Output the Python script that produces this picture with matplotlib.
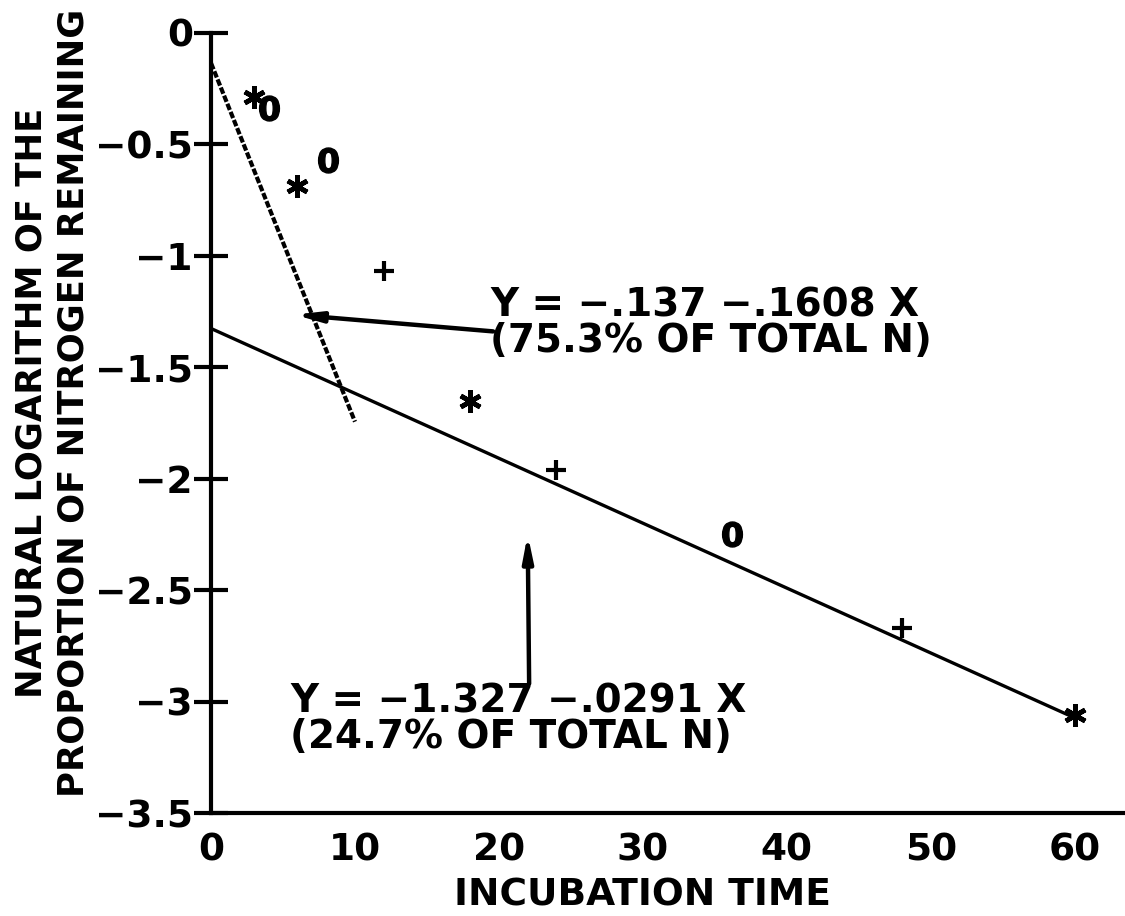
import numpy as np
import matplotlib
matplotlib.use("Agg")
import matplotlib.pyplot as plt

plt.rcParams["font.family"] = ["DejaVu Sans"]
plt.rcParams["font.weight"] = "bold"
plt.rcParams["axes.labelweight"] = "bold"

# data
star_t = [3, 6, 18, 60]
star_y = [-0.29, -0.69, -1.65, -3.06]
plus_t = [12, 24, 48]
plus_y = [-1.07, -1.96, -2.67]
zero_t = [4, 8.1, 36.2]
zero_y = [-0.34, -0.57, -2.25]

fast_a, fast_b = -0.137, -0.1608   # labile pool
slow_a, slow_b = -1.327, -0.0291   # resistant pool
fast_t = np.array([0, 10])
slow_t = np.array([0, 60])

yticks = [0, -0.5, -1, -1.5, -2, -2.5, -3, -3.5]
ytick_labels = ["0", "\u22120.5", "\u22121", "\u22121.5", "\u22122", "\u22122.5", "\u22123", "\u22123.5"]
xticks = [0, 10, 20, 30, 40, 50, 60]

fig = plt.figure(figsize=(11.25, 9.16), dpi=100)
ax = fig.add_axes([0.1876, 0.1124, 0.8124, 0.852])

ax.plot(slow_t, slow_a + slow_b * slow_t, color="black", lw=2.4)
ax.plot(fast_t, fast_a + fast_b * fast_t, color="black", lw=3, linestyle=(0, (1.6, 0.5)))

ax.plot(star_t, star_y, linestyle="none", marker=(6, 2, 0), ms=16, mew=3.4, color="black")
ax.plot(plus_t, plus_y, linestyle="none", marker="+", ms=15, mew=3, color="black")
ax.plot(zero_t, zero_y, linestyle="none", marker="$\\mathbf{0}$", ms=18, color="black")

ax.annotate("", xy=(5.8, -1.265), xytext=(19.6, -1.34),
            arrowprops=dict(arrowstyle="-|>,head_length=1.5,head_width=0.3", lw=3.2, color="black",
                            shrinkA=0, shrinkB=0))
ax.annotate("", xy=(22.0, -2.25), xytext=(22.1, -2.92),
            arrowprops=dict(arrowstyle="-|>,head_length=1.5,head_width=0.3", lw=3.2, color="black",
                            shrinkA=0, shrinkB=0))

ax.text(19.4, -1.14, "Y = \u2212.137 \u2212.1608 X\n(75.3% OF TOTAL N)", fontsize=28,
        va="top", ha="left", linespacing=0.92)
ax.text(5.5, -2.915, "Y = \u22121.327 \u2212.0291 X\n(24.7% OF TOTAL N)", fontsize=28,
        va="top", ha="left", linespacing=0.92)

ax.set_xlim(0, 63.5)
ax.set_ylim(-3.5, 0)
ax.set_yticks(yticks)
ax.set_yticklabels(ytick_labels)
ax.set_xticks(xticks)
ax.tick_params(axis="y", direction="inout", length=24, width=3, labelsize=27, pad=1)
ax.tick_params(axis="x", length=0, labelsize=27, pad=14)

for side in ["top", "right"]:
    ax.spines[side].set_visible(False)
for side in ["left", "bottom"]:
    ax.spines[side].set_linewidth(3)

ax.set_xlabel("INCUBATION TIME", fontsize=27)
ax.xaxis.set_label_coords(0.472, -0.082)
ax.set_ylabel("NATURAL LOGARITHM OF THE\nPROPORTION OF NITROGEN REMAINING", fontsize=25.5,
              linespacing=1.3)
ax.yaxis.set_label_coords(-0.132, 0.525)

fig.savefig("out.png", dpi=100)
